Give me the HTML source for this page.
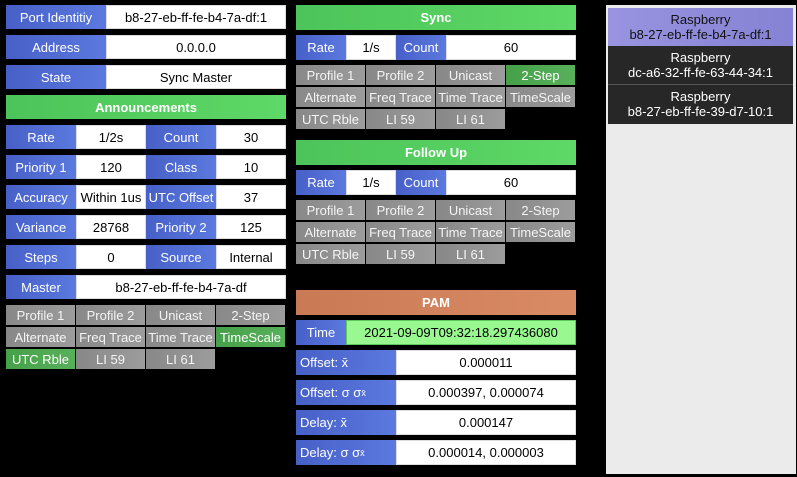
<!DOCTYPE html>
<html><head><style>
body{margin:0;width:797px;height:477px;background:#000;position:relative;overflow:hidden;font-family:"Liberation Sans",sans-serif;font-size:13px}
div.c{position:absolute;display:flex;align-items:center;justify-content:center;box-sizing:border-box;white-space:nowrap;overflow:hidden}
div.r{position:absolute;box-sizing:border-box;text-align:center;line-height:15px;padding-top:4px;white-space:nowrap}
.l{background:linear-gradient(90deg,#4760c8,#5b79df);color:#fff}
.v{background:#fff;color:#000;border:1px solid #ddd}
.h{background:linear-gradient(90deg,#4cc45a,#5ed866);color:#fff;font-weight:bold}
.p{background:linear-gradient(90deg,#c97a55,#d98b66);color:#fff;font-weight:bold}
.f{background:linear-gradient(90deg,#888,#9c9c9c);color:#f4f4f4}
.g{background:linear-gradient(90deg,#46a04a,#58b05a);color:#fff}
.tl{justify-content:flex-start!important;padding-left:4px}
</style></head><body>
<div class="c l" style="left:6px;top:5px;width:100px;height:24px">Port Identitiy</div>
<div class="c v" style="left:106px;top:5px;width:180px;height:24px">b8-27-eb-ff-fe-b4-7a-df:1</div>
<div class="c l" style="left:6px;top:35px;width:100px;height:24px">Address</div>
<div class="c v" style="left:106px;top:35px;width:180px;height:24px">0.0.0.0</div>
<div class="c l" style="left:6px;top:65px;width:100px;height:24px">State</div>
<div class="c v" style="left:106px;top:65px;width:180px;height:24px">Sync Master</div>
<div class="c h" style="left:6px;top:95px;width:280px;height:24px">Announcements</div>

<div class="c l" style="left:6px;top:125px;width:70px;height:24px">Rate</div>
<div class="c v" style="left:76px;top:125px;width:70px;height:24px">1/2s</div>
<div class="c l" style="left:146px;top:125px;width:70px;height:24px">Count</div>
<div class="c v" style="left:216px;top:125px;width:70px;height:24px">30</div>
<div class="c l" style="left:6px;top:155px;width:70px;height:24px">Priority 1</div>
<div class="c v" style="left:76px;top:155px;width:70px;height:24px">120</div>
<div class="c l" style="left:146px;top:155px;width:70px;height:24px">Class</div>
<div class="c v" style="left:216px;top:155px;width:70px;height:24px">10</div>
<div class="c l" style="left:6px;top:185px;width:70px;height:24px">Accuracy</div>
<div class="c v" style="left:76px;top:185px;width:70px;height:24px">Within 1us</div>
<div class="c l" style="left:146px;top:185px;width:70px;height:24px">UTC Offset</div>
<div class="c v" style="left:216px;top:185px;width:70px;height:24px">37</div>
<div class="c l" style="left:6px;top:215px;width:70px;height:24px">Variance</div>
<div class="c v" style="left:76px;top:215px;width:70px;height:24px">28768</div>
<div class="c l" style="left:146px;top:215px;width:70px;height:24px">Priority 2</div>
<div class="c v" style="left:216px;top:215px;width:70px;height:24px">125</div>
<div class="c l" style="left:6px;top:245px;width:70px;height:24px">Steps</div>
<div class="c v" style="left:76px;top:245px;width:70px;height:24px">0</div>
<div class="c l" style="left:146px;top:245px;width:70px;height:24px">Source</div>
<div class="c v" style="left:216px;top:245px;width:70px;height:24px">Internal</div>
<div class="c l" style="left:6px;top:275px;width:70px;height:24px">Master</div>
<div class="c v" style="left:76px;top:275px;width:210px;height:24px">b8-27-eb-ff-fe-b4-7a-df</div>

<div class="c f" style="left:6px;top:305px;width:69px;height:20px">Profile 1</div>
<div class="c f" style="left:76px;top:305px;width:69px;height:20px">Profile 2</div>
<div class="c f" style="left:146px;top:305px;width:69px;height:20px">Unicast</div>
<div class="c f" style="left:216px;top:305px;width:69px;height:20px">2-Step</div>
<div class="c f" style="left:6px;top:327px;width:69px;height:20px">Alternate</div>
<div class="c f" style="left:76px;top:327px;width:69px;height:20px">Freq Trace</div>
<div class="c f" style="left:146px;top:327px;width:69px;height:20px">Time Trace</div>
<div class="c g" style="left:216px;top:327px;width:69px;height:20px">TimeScale</div>
<div class="c g" style="left:6px;top:349px;width:69px;height:20px">UTC Rble</div>
<div class="c f" style="left:76px;top:349px;width:69px;height:20px">LI 59</div>
<div class="c f" style="left:146px;top:349px;width:69px;height:20px">LI 61</div>

<div class="c h" style="left:296px;top:5px;width:280px;height:25px">Sync</div>
<div class="c l" style="left:296px;top:35px;width:50px;height:25px">Rate</div>
<div class="c v" style="left:346px;top:35px;width:50px;height:25px">1/s</div>
<div class="c l" style="left:396px;top:35px;width:50px;height:25px">Count</div>
<div class="c v" style="left:446px;top:35px;width:130px;height:25px">60</div>
<div class="c f" style="left:296px;top:65px;width:69px;height:20px">Profile 1</div>
<div class="c f" style="left:366px;top:65px;width:69px;height:20px">Profile 2</div>
<div class="c f" style="left:436px;top:65px;width:69px;height:20px">Unicast</div>
<div class="c g" style="left:506px;top:65px;width:69px;height:20px">2-Step</div>
<div class="c f" style="left:296px;top:87px;width:69px;height:20px">Alternate</div>
<div class="c f" style="left:366px;top:87px;width:69px;height:20px">Freq Trace</div>
<div class="c f" style="left:436px;top:87px;width:69px;height:20px">Time Trace</div>
<div class="c f" style="left:506px;top:87px;width:69px;height:20px">TimeScale</div>
<div class="c f" style="left:296px;top:109px;width:69px;height:20px">UTC Rble</div>
<div class="c f" style="left:366px;top:109px;width:69px;height:20px">LI 59</div>
<div class="c f" style="left:436px;top:109px;width:69px;height:20px">LI 61</div>

<div class="c h" style="left:296px;top:140px;width:280px;height:25px">Follow Up</div>
<div class="c l" style="left:296px;top:170px;width:50px;height:25px">Rate</div>
<div class="c v" style="left:346px;top:170px;width:50px;height:25px">1/s</div>
<div class="c l" style="left:396px;top:170px;width:50px;height:25px">Count</div>
<div class="c v" style="left:446px;top:170px;width:130px;height:25px">60</div>
<div class="c f" style="left:296px;top:200px;width:69px;height:20px">Profile 1</div>
<div class="c f" style="left:366px;top:200px;width:69px;height:20px">Profile 2</div>
<div class="c f" style="left:436px;top:200px;width:69px;height:20px">Unicast</div>
<div class="c f" style="left:506px;top:200px;width:69px;height:20px">2-Step</div>
<div class="c f" style="left:296px;top:222px;width:69px;height:20px">Alternate</div>
<div class="c f" style="left:366px;top:222px;width:69px;height:20px">Freq Trace</div>
<div class="c f" style="left:436px;top:222px;width:69px;height:20px">Time Trace</div>
<div class="c f" style="left:506px;top:222px;width:69px;height:20px">TimeScale</div>
<div class="c f" style="left:296px;top:244px;width:69px;height:20px">UTC Rble</div>
<div class="c f" style="left:366px;top:244px;width:69px;height:20px">LI 59</div>
<div class="c f" style="left:436px;top:244px;width:69px;height:20px">LI 61</div>

<div class="c p" style="left:296px;top:290px;width:280px;height:25px">PAM</div>
<div class="c l" style="left:296px;top:320px;width:50px;height:25px">Time</div>
<div class="c" style="left:346px;top:320px;width:230px;height:25px;background:#99f890;border:1px solid #5cc85c">2021-09-09T09:32:18.297436080</div>
<div class="c l tl" style="left:296px;top:350px;width:100px;height:25px">Offset: x̄</div>
<div class="c v" style="left:396px;top:350px;width:180px;height:25px">0.000011</div>
<div class="c l tl" style="left:296px;top:380px;width:100px;height:25px">Offset: σ σ<sub style="font-size:9px">x̄</sub></div>
<div class="c v" style="left:396px;top:380px;width:180px;height:25px">0.000397, 0.000074</div>
<div class="c l tl" style="left:296px;top:410px;width:100px;height:25px">Delay: x̄</div>
<div class="c v" style="left:396px;top:410px;width:180px;height:25px">0.000147</div>
<div class="c l tl" style="left:296px;top:440px;width:100px;height:25px">Delay: σ σ<sub style="font-size:9px">x̄</sub></div>
<div class="c v" style="left:396px;top:440px;width:180px;height:25px">0.000014, 0.000003</div>

<div style="position:absolute;left:606px;top:5px;width:190px;height:469px;background:#ebebeb"></div>
<div class="r" style="left:608px;top:8px;width:185px;height:38px;background:linear-gradient(90deg,#9894e0,#8682d4);color:#111">Raspberry<br>b8-27-eb-ff-fe-b4-7a-df:1</div>
<div class="r" style="left:608px;top:46px;width:185px;height:39px;background:#272727;color:#fff;border-bottom:1px solid #555">Raspberry<br>dc-a6-32-ff-fe-63-44-34:1</div>
<div class="r" style="left:608px;top:85px;width:185px;height:39px;background:#272727;color:#fff">Raspberry<br>b8-27-eb-ff-fe-39-d7-10:1</div>
</body></html>
